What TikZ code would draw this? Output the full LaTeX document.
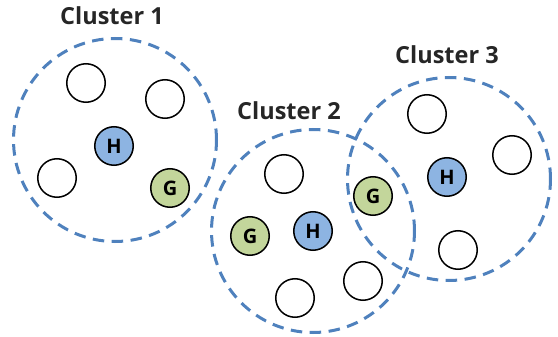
\documentclass[tikz,border=0pt]{standalone}
\usepackage{fontspec}
\setmainfont{Open Sans}
\usepackage{xcolor}
\usetikzlibrary{positioning}
\definecolor{clusterblue}{HTML}{4F81BD}
\definecolor{headblue}{HTML}{8DB4E2}
\definecolor{gatewaygreen}{HTML}{C3D69B}
\definecolor{labelgray}{HTML}{262626}

\tikzset{
  cluster/.style={circle, draw=clusterblue, line width=3pt,
    dash pattern=on 11.5pt off 7.5pt, minimum size=203pt, inner sep=0pt},
  member/.style={circle, draw=black, line width=1.5pt, fill=white,
    minimum size=38.5pt, inner sep=0pt,
    font=\bfseries\fontsize{20}{20}\selectfont},
  head/.style={member, fill=headblue},
  gateway/.style={member, fill=gatewaygreen},
  clustername/.style={text=labelgray, inner sep=0pt,
    font=\bfseries\fontsize{23.5}{23.5}\selectfont}
}

\begin{document}
\begin{tikzpicture}[x=1pt,y=-1pt]
  \useasboundingbox (0,0) rectangle (558,337);

  % cluster outlines
  \node[cluster] (c1) at (115,140) {};
  \node[cluster] (c2) at (313,231) {};
  \node[cluster] (c3) at (449,179) {};

  \node[clustername] (n1) at (112,16) {Cluster 1};
  \node[clustername] (n2) at (289,111) {Cluster 2};
  \node[clustername] (n3) at (447,55) {Cluster 3};

  % cluster 1
  \node[member] (a1) at (86,83) {};
  \node[member] (a2) at (165,99) {};
  \node[member] (a3) at (57,178) {};
  \node[head] (h1) at (114,146) {H};
  \node[gateway] (g1) at (170,188) {G};

  % cluster 2
  \node[member] (b1) at (284,174) {};
  \node[member] (b2) at (363,281) {};
  \node[member] (b3) at (295,298) {};
  \node[gateway] (g2) at (250,236) {G};
  \node[head] (h2) at (313,231) {H};

  % cluster 3
  \node[member] (d1) at (427,114) {};
  \node[member] (d2) at (512,155) {};
  \node[member] (d3) at (458,250) {};
  \node[gateway] (g3) at (373,196) {G};
  \node[head] (h3) at (447,177) {H};
\end{tikzpicture}
\end{document}
